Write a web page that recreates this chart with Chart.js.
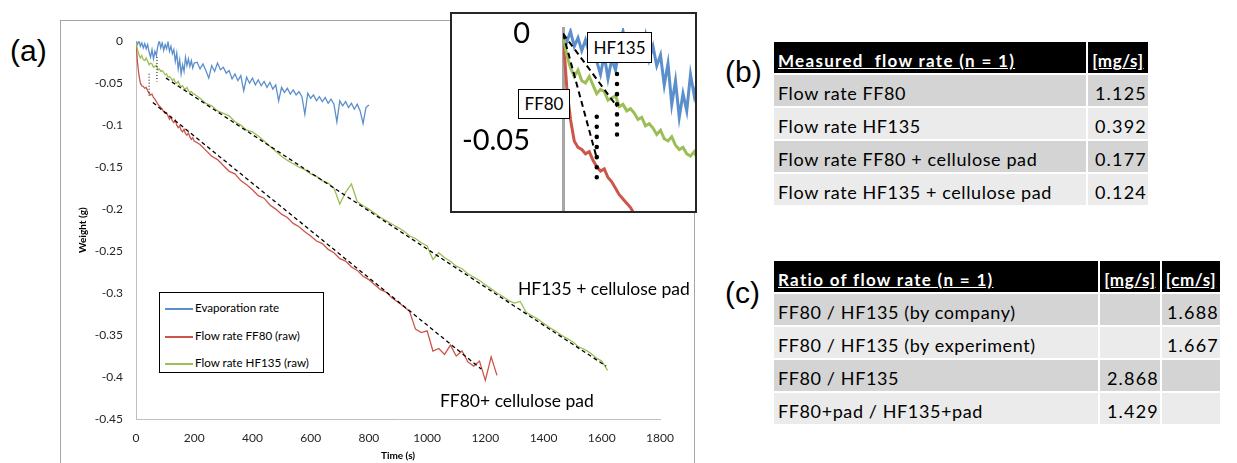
<!DOCTYPE html>
<html>
<head>
<meta charset="utf-8">
<script src="https://cdn.jsdelivr.net/npm/chart.js@4.4.0/dist/chart.umd.min.js"></script>
<style>
  html, body { margin: 0; padding: 0; background: #fff; }
  body { width: 1237px; height: 463px; position: relative; overflow: hidden; font-family: Lato, sans-serif; }
  .panel { position: absolute; font-family: "Liberation Sans", Arial, sans-serif; font-size: 30px; color: #000; line-height: 1; }
  #frame { position: absolute; left: 60px; top: 20px; width: 635px; height: 480px; border: 1px solid #a6a6a6; box-sizing: border-box; }
  #main { position: absolute; left: 61px; top: 21px; }
  #zoomBox { position: absolute; left: 450px; top: 12px; width: 247px; height: 201px; border: 2px solid #262626; box-sizing: border-box; background: #fff; }
  #inset { position: absolute; left: 0; top: 0; }
  .tag { position: absolute; background: #fff; border: 1px solid #000; box-sizing: border-box; font-size: 17px; text-align: center; }
  #legend { position: absolute; left: 159px; top: 292px; width: 165px; height: 81px; border: 1px solid #000; box-sizing: border-box; background: #fff; font-size: 11.6px; }
  #legend div { position: absolute; left: 5px; height: 14px; line-height: 14px; white-space: nowrap; }
  #legend span { display: inline-block; width: 28px; height: 2px; vertical-align: middle; margin-right: 2px; }
  table.tbl { position: absolute; border-collapse: separate; border-spacing: 2px; font-size: 18px; letter-spacing: 0.6px; color: #000; }
  .tbl td, .tbl th { box-sizing: border-box; height: 31px; padding: 0 4px 1px; white-space: pre; vertical-align: bottom; line-height: 24px; }
  .tbl th { background: #000; color: #fff; text-align: left; text-decoration: underline; font-size: 17px; letter-spacing: 1.3px; padding-bottom: 0; }
  .tbl th.unit { text-align: center; padding: 0; letter-spacing: 0.6px; }
  .tbl tr.dark td { background: #d4d4d4; }
  .tbl tr.light td { background: #ebebeb; }
  .tbl td.num { text-align: right; padding-right: 1px; letter-spacing: 1.2px; }
</style>
</head>
<body>
<div class="panel" style="left:10px; top:36px;">(a)</div>
<div class="panel" style="left:725px; top:57px;">(b)</div>
<div class="panel" style="left:725px; top:278px;">(c)</div>

<div id="frame"></div>
<canvas id="main" width="633" height="442"></canvas>
<div id="legend"></div>

<div id="zoomBox">
  <canvas id="inset" width="243" height="197"></canvas>
  <div class="tag" style="left:135px; top:18px; width:65px; height:31px; line-height:29px;">HF135</div>
  <div class="tag" style="left:66px; top:75px; width:52px; height:30px; line-height:28px;">FF80</div>
</div>

<table class="tbl" id="flowTable" style="left:772px; top:40px;"></table>
<table class="tbl" id="ratioTable" style="left:772px; top:259px;"></table>

<script>
// sample times in seconds for the two filter traces
const sampleTimes = [
  0, 5, 10, 15, 20, 25, 30, 35, 40, 45, 50, 55, 60, 65, 70, 75, 80, 85, 90, 95,
  100, 105, 110, 115, 120, 125, 130, 135, 140, 145, 150, 155, 160, 165, 170, 175, 180, 185, 190, 195, 200,
  220, 240, 260, 280, 300, 320, 340, 360, 380, 400, 420, 440, 460, 480, 500, 520, 540, 560, 580, 600,
  620, 640, 660, 680, 700, 720, 740, 760, 780, 800, 820, 840, 860, 880, 900, 920, 940, 960, 980, 1000,
  1020, 1040, 1060, 1080, 1100, 1120, 1140, 1160, 1180, 1200, 1220, 1240, 1260, 1280, 1300, 1320, 1340, 1360, 1380, 1400,
  1420, 1440, 1460, 1480, 1500, 1520, 1540, 1560, 1580, 1600, 1620
];

// the evaporation run was logged more densely
const evaporationTimes = [
  0, 5, 10, 15, 20, 25, 30, 35, 40, 45, 50, 55, 60, 65, 70, 75, 80, 85, 90, 95,
  100, 105, 110, 115, 120, 125, 130, 135, 140, 145, 150, 155, 160, 165, 170, 175, 180, 185, 190, 195, 200,
  210, 220, 230, 240, 250, 260, 270, 280, 290, 300, 310, 320, 330, 340, 350, 360, 370, 380, 390, 400,
  410, 420, 430, 440, 450, 460, 470, 480, 490, 500, 510, 520, 530, 540, 550, 560, 570, 580, 590, 600,
  610, 620, 630, 640, 650, 660, 670, 680, 690, 700, 710, 720, 730, 740, 750, 760, 770, 780, 790, 800
];

// weight change (g)
const evaporationWeight = [
  0, -0.004, 0.001, -0.006, -0.002, -0.008, -0.003, -0.009, -0.004, -0.013,
  -0.019, -0.010, -0.021, -0.012, -0.017, -0.006, 0.001, -0.008, -0.002, -0.011,
  -0.004, -0.009, -0.001, -0.012, -0.006, -0.015, -0.010, -0.024, -0.014, -0.033,
  -0.022, -0.039, -0.028, -0.036, -0.019, -0.029, -0.021, -0.030, -0.023, -0.032,
  -0.026,
  -0.025, -0.033, -0.027, -0.035, -0.044, -0.029, -0.036, -0.026, -0.034, -0.031,
  -0.038, -0.035, -0.045, -0.039, -0.047, -0.041, -0.059, -0.043, -0.050, -0.044,
  -0.052, -0.046, -0.053, -0.048, -0.055, -0.049, -0.057, -0.052, -0.071, -0.055,
  -0.061, -0.056, -0.063, -0.058, -0.064, -0.060, -0.066, -0.087, -0.062, -0.068,
  -0.064, -0.071, -0.066, -0.072, -0.067, -0.074, -0.069, -0.075, -0.096, -0.071,
  -0.077, -0.072, -0.079, -0.074, -0.081, -0.075, -0.083, -0.098, -0.079, -0.076
];

const ff80Weight = [
  0, -0.025, -0.040, -0.050, -0.053, -0.054, -0.056, -0.055, -0.059, -0.062,
  -0.064, -0.063, -0.067, -0.069, -0.072, -0.075, -0.077, -0.079, -0.081, -0.084,
  -0.086, -0.085, -0.089, -0.093, -0.090, -0.095, -0.097, -0.094, -0.100, -0.103,
  -0.101, -0.106, -0.108, -0.105, -0.110, -0.112, -0.109, -0.114, -0.117, -0.115,
  -0.119,
  -0.123, -0.130, -0.137, -0.141, -0.148, -0.155, -0.158, -0.166, -0.171, -0.177,
  -0.184, -0.187, -0.195, -0.200, -0.206, -0.210, -0.217, -0.221, -0.227, -0.232,
  -0.238, -0.241, -0.248, -0.252, -0.259, -0.262, -0.269, -0.273, -0.280, -0.284,
  -0.290, -0.296, -0.299, -0.306, -0.311, -0.316, -0.322, -0.343, -0.347, -0.345,
  -0.369, -0.366, -0.373, -0.362, -0.375, -0.369, -0.382, -0.387, -0.381, -0.404,
  -0.376, -0.398
];

const hf135Weight = [
  0, -0.010, -0.016, -0.020, -0.017, -0.022, -0.023, -0.020, -0.024, -0.028,
  -0.026, -0.027, -0.031, -0.030, -0.029, -0.034, -0.033, -0.036, -0.035, -0.037,
  -0.040, -0.039, -0.043, -0.042, -0.044, -0.047, -0.045, -0.049, -0.050, -0.048,
  -0.052, -0.054, -0.053, -0.056, -0.057, -0.055, -0.059, -0.061, -0.060, -0.062,
  -0.063,
  -0.068, -0.074, -0.077, -0.083, -0.086, -0.089, -0.096, -0.100, -0.106, -0.108,
  -0.113, -0.119, -0.125, -0.131, -0.137, -0.142, -0.146, -0.150, -0.153, -0.158,
  -0.161, -0.166, -0.169, -0.175, -0.194, -0.180, -0.170, -0.191, -0.196, -0.200,
  -0.205, -0.210, -0.214, -0.218, -0.222, -0.226, -0.232, -0.235, -0.240, -0.244,
  -0.260, -0.252, -0.258, -0.262, -0.268, -0.271, -0.277, -0.281, -0.285, -0.290,
  -0.295, -0.300, -0.304, -0.309, -0.312, -0.310, -0.323, -0.327, -0.331, -0.336,
  -0.341, -0.345, -0.350, -0.354, -0.358, -0.364, -0.367, -0.371, -0.377, -0.381,
  -0.392
];

// linear fits through the steady part
const ff80FitTime = [58, 1186];
const ff80FitWeight = [-0.073, -0.3905];
const hf135FitTime = [103, 1615];
const hf135FitWeight = [-0.044, -0.387];

// initial slopes and where the pad takes over
const ff80StartTime = [0, 45];
const ff80StartWeight = [0, -0.058];
const hf135StartTime = [0, 72];
const hf135StartWeight = [0, -0.034];
const ff80MarkTime = [45, 45];
const ff80MarkWeight = [-0.0387, -0.0674];
const hf135MarkTime = [72, 72];
const hf135MarkWeight = [-0.0188, -0.048];

const seriesNames = ['Evaporation rate', 'Flow rate FF80 (raw)', 'Flow rate HF135 (raw)'];
const seriesColors = ['#5b8fcb', '#cd5549', '#9bbe57'];

const flowLabels = ['Flow rate FF80', 'Flow rate HF135', 'Flow rate FF80 + cellulose pad', 'Flow rate HF135 + cellulose pad'];
const flowValues = [1.125, 0.392, 0.177, 0.124];
const ratioLabels = ['FF80 / HF135 (by company)', 'FF80 / HF135 (by experiment)', 'FF80 / HF135', 'FF80+pad / HF135+pad'];
const ratioMgs = [null, null, 2.868, 1.429];
const ratioCms = [1.688, 1.667, null, null];

const pts = (ts, ws) => ws.map((w, i) => ({ x: ts[i], y: w }));
const fmt = v => String(+v.toFixed(2));

function line(data, color, width, dash) {
  return { data, borderColor: color, borderWidth: width, borderDash: dash || [], pointRadius: 0, showLine: true, fill: false };
}

// text labels placed in data coordinates
const noteText = {
  id: 'noteText',
  afterDatasetsDraw(chart, args, opts) {
    const { ctx, scales: { x, y } } = chart;
    ctx.save();
    ctx.font = opts.font;
    ctx.fillStyle = '#000';
    ctx.textBaseline = 'middle';
    opts.items.forEach(n => ctx.fillText(n.text, x.getPixelForValue(n.t), y.getPixelForValue(n.w)));
    ctx.restore();
  }
};

const tickFont = { family: 'Lato', size: 12 };
const titleFont = { family: 'Lato', size: 10, weight: 'bold' };

new Chart(document.getElementById('main'), {
  type: 'scatter',
  data: {
    datasets: [
      line(pts(ff80FitTime, ff80FitWeight), '#000', 1.3, [4, 3]),
      line(pts(hf135FitTime, hf135FitWeight), '#000', 1.3, [4, 3]),
      line(pts(ff80MarkTime, ff80MarkWeight), '#000', 1, [1, 2]),
      line(pts(hf135MarkTime, hf135MarkWeight), '#000', 1, [1, 2]),
      line(pts(sampleTimes, hf135Weight), seriesColors[2], 1.3),
      line(pts(sampleTimes, ff80Weight), seriesColors[1], 1.3),
      line(pts(evaporationTimes, evaporationWeight), seriesColors[0], 1.3)
    ]
  },
  options: {
    responsive: false,
    animation: false,
    layout: { padding: { top: 17, right: 34, left: 0, bottom: 0 } },
    plugins: {
      legend: { display: false },
      tooltip: { enabled: false },
      noteText: {
        font: '17.5px Lato',
        items: [
          { text: 'HF135 + cellulose pad', t: 1312, w: -0.2953 },
          { text: 'FF80+ cellulose pad', t: 1044, w: -0.4294 }
        ]
      }
    },
    scales: {
      x: {
        type: 'linear', min: 0, max: 1800,
        ticks: { stepSize: 200, padding: 12, font: tickFont, color: '#262626', maxRotation: 0, callback: v => String(v) },
        grid: { display: false, drawTicks: false },
        border: { color: '#bfbfbf' },
        title: { display: true, text: 'Time (s)', font: titleFont, color: '#000', padding: { top: 0, bottom: 1 } },
        afterFit(s) { s.height = 44; }
      },
      y: {
        min: -0.45, max: 0,
        ticks: { stepSize: 0.05, padding: 13, font: tickFont, color: '#262626', callback: fmt },
        grid: { display: false, drawTicks: false },
        border: { color: '#bfbfbf' },
        title: { display: true, text: 'Weight (g)', font: titleFont, color: '#000', padding: { top: 16, bottom: 0 } },
        afterFit(s) { s.width = 75; }
      }
    }
  },
  plugins: [noteText]
});

// close-up of the first three minutes
new Chart(document.getElementById('inset'), {
  type: 'scatter',
  data: {
    datasets: [
      line(pts(ff80StartTime, ff80StartWeight), '#000', 2, [6, 4]),
      line(pts(hf135StartTime, hf135StartWeight), '#000', 2, [6, 4]),
      Object.assign(line(pts(ff80MarkTime, ff80MarkWeight), '#000', 4.5, [0.1, 10]), { borderCapStyle: 'round' }),
      Object.assign(line(pts(hf135MarkTime, hf135MarkWeight), '#000', 4.5, [0.1, 10]), { borderCapStyle: 'round' }),
      line(pts(sampleTimes, hf135Weight), seriesColors[2], 3),
      line(pts(sampleTimes, ff80Weight), seriesColors[1], 3),
      line(pts(evaporationTimes, evaporationWeight), seriesColors[0], 3)
    ]
  },
  options: {
    responsive: false,
    animation: false,
    layout: { padding: { top: 14, right: 0, left: 0, bottom: 0 } },
    plugins: { legend: { display: false }, tooltip: { enabled: false } },
    scales: {
      x: { type: 'linear', display: false, min: 0, max: 176 },
      y: {
        min: -0.0826, max: 0.00256,
        ticks: { stepSize: 0.05, includeBounds: false, padding: 33, font: { family: 'Lato', size: 29 }, color: '#000', callback: fmt },
        grid: { display: false, drawTicks: false },
        border: { color: '#a6a6a6', width: 3 },
        afterFit(s) { s.width = 111; s.paddingTop = 0; s.paddingBottom = 0; }
      }
    }
  }
});

// legend
const legend = document.getElementById('legend');
seriesNames.forEach((name, i) => {
  const row = document.createElement('div');
  row.style.top = (8 + i * 27.5) + 'px';
  row.innerHTML = '<span style="background:' + seriesColors[i] + '"></span>' + name;
  legend.appendChild(row);
});

// tables
const cell = (v, cls) => '<td class="' + (cls || '') + '">' + (v == null ? '' : v) + '</td>';

let html = '<tr><th style="width:312px">Measured  flow rate (n = 1)</th><th class="unit" style="width:60px">[mg/s]</th></tr>';
flowLabels.forEach((lab, i) => {
  html += '<tr class="' + (i % 2 ? 'light' : 'dark') + '">' + cell(lab) + cell(flowValues[i].toFixed(3), 'num') + '</tr>';
});
document.getElementById('flowTable').innerHTML = html;

html = '<tr><th style="width:324px">Ratio of flow rate (n = 1)</th><th class="unit" style="width:60px">[mg/s]</th><th class="unit" style="width:58px">[cm/s]</th></tr>';
ratioLabels.forEach((lab, i) => {
  html += '<tr class="' + (i % 2 ? 'light' : 'dark') + '">' + cell(lab) +
    cell(ratioMgs[i] == null ? null : ratioMgs[i].toFixed(3), 'num') +
    cell(ratioCms[i] == null ? null : ratioCms[i].toFixed(3), 'num') + '</tr>';
});
document.getElementById('ratioTable').innerHTML = html;
</script>
</body>
</html>
